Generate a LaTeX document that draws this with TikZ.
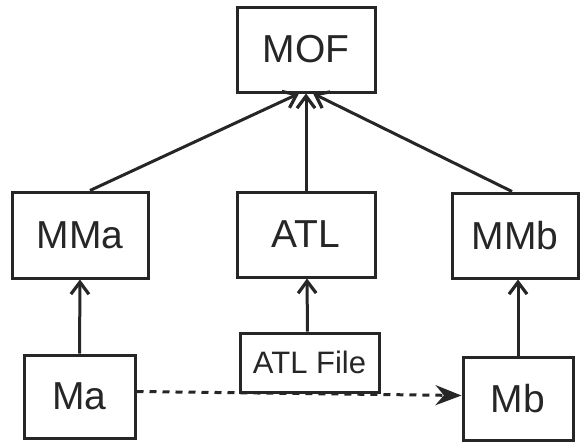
\documentclass[tikz,border=0pt]{standalone}
\usepackage{fontspec}
\setmainfont{Liberation Sans}
\usetikzlibrary{arrows.meta}
\begin{document}
\begin{tikzpicture}[x=1pt,y=-1pt,
  box/.style={draw=black!85,line width=3pt,rectangle,inner sep=0pt,
    font=\fontsize{39}{44}\selectfont,text=black!85},
  smallbox/.style={box,font=\fontsize{31}{35}\selectfont},
  up/.style={draw=black!85,line width=3pt,
    -{Straight Barb[length=12pt,width=18pt,line width=3.2pt]}},
  flow/.style={draw=black!85,line width=3pt,dash pattern=on 7pt off 6pt,
    -{Stealth[length=26pt,width=20pt]}}]
  \useasboundingbox (0,0) rectangle (580,442);
  % top level
  \node[box,minimum width=138pt,minimum height=85pt] (MOF) at (306,49.5) {MOF};
  % metamodels
  \node[box,minimum width=136pt,minimum height=86pt] (MMa) at (80,235) {MMa};
  \node[box,minimum width=138pt,minimum height=85pt] (ATL) at (306,234.5) {ATL};
  \node[box,minimum width=126pt,minimum height=85pt] (MMb) at (515,235.5) {MMb};
  % models
  \node[box,minimum width=111pt,minimum height=83pt] (Ma) at (79.5,396.5) {Ma};
  \node[smallbox,minimum width=139pt,minimum height=59pt] (File) at (309.5,362.5) {ATL File};
  \node[box,minimum width=110pt,minimum height=83pt] (Mb) at (518,398.5) {Mb};
  % conformance links
  \draw[up] ([xshift=10pt]MMa.north) -- ([xshift=-7pt]MOF.south);
  \draw[up] (ATL.north) -- (MOF.south);
  \draw[up] ([xshift=-3pt]MMb.north) -- ([xshift=7pt]MOF.south);
  \draw[up] (Ma.north) -- (MMa.south);
  \draw[up] ([xshift=-2pt]File.north) -- ([xshift=1pt]ATL.south);
  \draw[up] (Mb.north) -- ([xshift=3pt]MMb.south);
  % transformation
  \draw[flow] ([yshift=5pt]Ma.east) -- ([yshift=3pt]Mb.west);
\end{tikzpicture}
\end{document}
